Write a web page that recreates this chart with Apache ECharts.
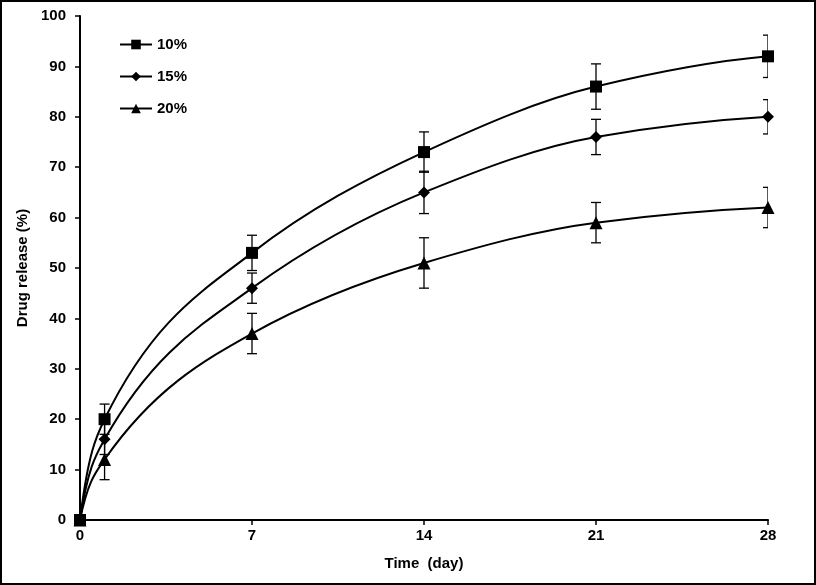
<!DOCTYPE html>
<html><head><meta charset="utf-8">
<script src="https://cdn.jsdelivr.net/npm/echarts@6/dist/echarts.min.js"></script>
<style>html,body{margin:0;padding:0;background:#fff}#c{width:816px;height:585px}</style>
</head><body><div id="c"></div>
<script>
const days = [0, 1, 7, 14, 21, 28];
const xTicks = [0, 7, 14, 21, 28];
const s10 = [0, 20, 53, 73, 86, 92];
const s15 = [0, 16, 46, 65, 76, 80];
const s20 = [0, 12, 37, 51, 59, 62];
const e10 = [0, 3, 3.5, 4, 4.5, 4.2];
const e15 = [0, 3, 3, 4.2, 3.5, 3.4];
const e20 = [0, 4, 4, 5, 4, 4];
const names = ['10%', '15%', '20%'];
const symbols = ['rect', 'diamond', 'triangle'];
const symSizes = [12, 12, 13];

const font = 'Liberation Sans, Arial, sans-serif';
const chart = echarts.init(document.getElementById('c'));
const seriesVals = [s10, s15, s20];
const errVals = [e10, e15, e20];

// monotone cubic tangents (Fritsch-Carlson), steep start
function tangents(xs, ys) {
  const n = xs.length, d = [], m = new Array(n);
  for (let i = 0; i < n - 1; i++) d.push((ys[i + 1] - ys[i]) / (xs[i + 1] - xs[i]));
  m[0] = 2 * d[0];
  m[n - 1] = d[n - 2] * 0.5;
  for (let i = 1; i < n - 1; i++) {
    if (d[i - 1] * d[i] <= 0) m[i] = 0;
    else {
      const h0 = xs[i] - xs[i - 1], h1 = xs[i + 1] - xs[i];
      const w1 = 2 * h1 + h0, w2 = h1 + 2 * h0;
      m[i] = (w1 + w2) / (w1 / d[i - 1] + w2 / d[i]);
    }
  }
  return m;
}

const series = [];
seriesVals.forEach((vals, i) => {
  const m = tangents(days, vals);
  series.push({
    type: 'custom', name: names[i] + ' curve', clip: true, z: 2,
    data: [[days[0], vals[0]]],
    renderItem: function (params, api) {
      const p0 = api.coord([days[0], vals[0]]);
      let path = 'M' + p0[0] + ' ' + p0[1];
      for (let k = 0; k < days.length - 1; k++) {
        const h = days[k + 1] - days[k];
        const c1 = api.coord([days[k] + h / 3, vals[k] + m[k] * h / 3]);
        const c2 = api.coord([days[k + 1] - h / 3, vals[k + 1] - m[k + 1] * h / 3]);
        const p3 = api.coord([days[k + 1], vals[k + 1]]);
        path += ' C' + c1[0] + ' ' + c1[1] + ' ' + c2[0] + ' ' + c2[1] + ' ' + p3[0] + ' ' + p3[1];
      }
      return {type: 'path', shape: {pathData: path}, style: {fill: 'none', stroke: '#000', lineWidth: 2}};
    }
  });
  series.push({
    name: names[i], type: 'line',
    data: days.map((d, j) => [d, vals[j]]),
    symbol: symbols[i], symbolSize: symSizes[i], showAllSymbol: true,
    lineStyle: {color: '#000', width: 2, opacity: 0}, itemStyle: {color: '#000'},
    z: 4
  });
  series.push({
    type: 'custom', name: names[i] + ' err', clip: true, z: 3,
    data: days.map((d, j) => [d, vals[j] - errVals[i][j], vals[j] + errVals[i][j]]),
    renderItem: function (params, api) {
      const x = api.value(0);
      const lo = api.coord([x, api.value(1)]);
      const hi = api.coord([x, api.value(2)]);
      const w = 5;
      const st = {stroke: '#000', lineWidth: 1.3};
      return {type: 'group', children: [
        {type: 'line', shape: {x1: lo[0], y1: lo[1], x2: hi[0], y2: hi[1]}, style: st},
        {type: 'line', shape: {x1: lo[0] - w, y1: lo[1], x2: lo[0] + w, y2: lo[1]}, style: st},
        {type: 'line', shape: {x1: hi[0] - w, y1: hi[1], x2: hi[0] + w, y2: hi[1]}, style: st}
      ]};
    }
  });
});

chart.setOption({
  animation: false,
  backgroundColor: '#fff',
  graphic: [{type: 'rect', shape: {x: 1, y: 1, width: 814, height: 583}, style: {fill: 'none', stroke: '#000', lineWidth: 2}, silent: true}],
  grid: {left: 80, top: 16, right: 48, bottom: 65},
  legend: {
    data: names, orient: 'vertical', left: 119, top: 37, padding: 0,
    itemWidth: 32, itemHeight: 12, itemGap: 17,
    lineStyle: {color: '#000', width: 2, opacity: 1},
    textStyle: {fontFamily: font, fontWeight: 'bold', fontSize: 15, color: '#000'}
  },
  xAxis: {
    type: 'value', min: 0, max: 28, interval: 7,
    name: 'Time  (day)', nameLocation: 'middle', nameGap: 36,
    nameTextStyle: {fontFamily: font, fontWeight: 'bold', fontSize: 15, color: '#000'},
    axisLine: {lineStyle: {color: '#000', width: 2}},
    axisTick: {show: true, length: 5, lineStyle: {color: '#000', width: 1.5}},
    axisLabel: {fontFamily: font, fontWeight: 'bold', fontSize: 15, color: '#000', margin: 8},
    splitLine: {show: false}
  },
  yAxis: {
    type: 'value', min: 0, max: 100, interval: 10,
    name: 'Drug release (%)', nameLocation: 'middle', nameGap: 45,
    nameTextStyle: {fontFamily: font, fontWeight: 'bold', fontSize: 15, color: '#000'},
    axisLine: {show: true, lineStyle: {color: '#000', width: 2}},
    axisTick: {show: true, length: 5, lineStyle: {color: '#000', width: 1.5}},
    axisLabel: {fontFamily: font, fontWeight: 'bold', fontSize: 15, color: '#000', margin: 14},
    splitLine: {show: false}
  },
  series: series
});
</script></body></html>
